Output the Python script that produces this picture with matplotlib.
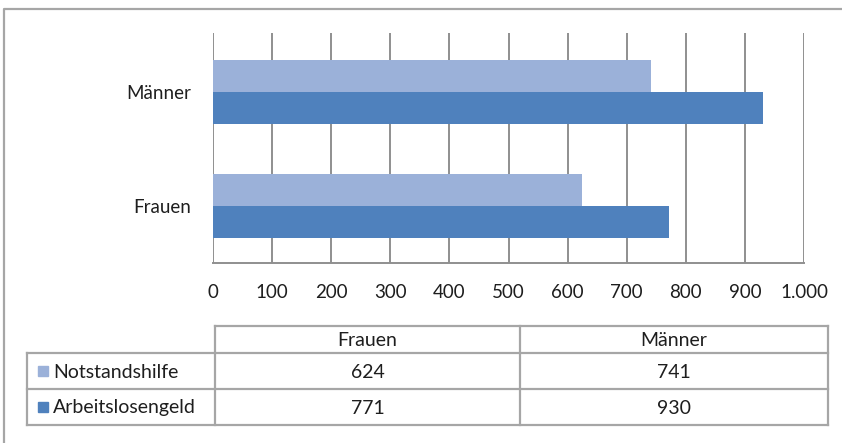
import numpy as np
import matplotlib.pyplot as plt

categories = ["Frauen", "Männer"]
series = ["Notstandshilfe", "Arbeitslosengeld"]
notstandshilfe = [624, 741]
arbeitslosengeld = [771, 930]
x_ticks = [0, 100, 200, 300, 400, 500, 600, 700, 800, 900, 1000]
x_tick_labels = ["0", "100", "200", "300", "400", "500", "600", "700", "800", "900", "1.000"]

colors = ["#9bb1d9", "#4f81bd"]
grid_color = "#8f8f8f"
frame_color = "#a6a6a6"
text_color = "#1e1e1e"

plt.rcParams['font.family'] = ['Lato', 'DejaVu Sans']

W, H = 842, 443
fig = plt.figure(figsize=(W / 100, H / 100), dpi=100)

# overlay in pixel coordinates for frame and table
bg = fig.add_axes([0, 0, 1, 1])
bg.set_xlim(0, W)
bg.set_ylim(H, 0)
bg.axis("off")
bg.plot([4, 4, W], [H, 8.5, 8.5], color=frame_color, lw=1.6)

ax = fig.add_axes([213 / W, 1 - 263 / H, (804 - 213) / W, (263 - 33) / H])
y = np.arange(len(categories))
h = 0.28
ax.barh(y + h / 2, notstandshilfe, height=h, color=colors[0], zorder=3)
ax.barh(y - h / 2, arbeitslosengeld, height=h, color=colors[1], zorder=3)
ax.set_xlim(0, 1000)
ax.set_ylim(-0.5, 1.52)
ax.set_xticks(x_ticks)
ax.set_xticklabels(x_tick_labels)
ax.set_yticks(y)
ax.set_yticklabels(categories)
ax.grid(axis="x", color=grid_color, lw=1.4, zorder=0)
for s in ["top", "left", "right"]:
    ax.spines[s].set_visible(False)
ax.spines["bottom"].set_color(grid_color)
ax.spines["bottom"].set_linewidth(1.4)
ax.tick_params(axis="both", length=0, labelsize=13.5, colors=text_color)
ax.tick_params(axis="x", pad=15)
ax.tick_params(axis="y", pad=16)

# data table below the chart
rows_y = [326, 353, 389, 425]
col_x = [27, 215, 520, 828]
lw = 1.6
bg.plot([col_x[1], col_x[3]], [rows_y[0], rows_y[0]], color=frame_color, lw=lw)
for yy in rows_y[1:]:
    bg.plot([col_x[0], col_x[3]], [yy, yy], color=frame_color, lw=lw)
bg.plot([col_x[0], col_x[0]], [rows_y[1], rows_y[3]], color=frame_color, lw=lw)
for xx in col_x[1:]:
    bg.plot([xx, xx], [rows_y[0], rows_y[3]], color=frame_color, lw=lw)

fs = 14
for j, cat in enumerate(categories):
    cx = (col_x[j + 1] + col_x[j + 2]) / 2
    bg.text(cx, (rows_y[0] + rows_y[1]) / 2 + 1, cat, ha="center", va="center",
            fontsize=fs, color=text_color)
values = [notstandshilfe, arbeitslosengeld]
for i, name in enumerate(series):
    cy = (rows_y[i + 1] + rows_y[i + 2]) / 2
    bg.add_patch(plt.Rectangle((38, cy - 5), 10, 10, color=colors[i]))
    bg.text(53, cy + 1, name, ha="left", va="center", fontsize=fs, color=text_color)
    for j in range(len(categories)):
        cx = (col_x[j + 1] + col_x[j + 2]) / 2
        bg.text(cx, cy + 1, str(values[i][j]), ha="center", va="center",
                fontsize=fs, color=text_color)

fig.savefig("out.png", dpi=100, facecolor="white")
